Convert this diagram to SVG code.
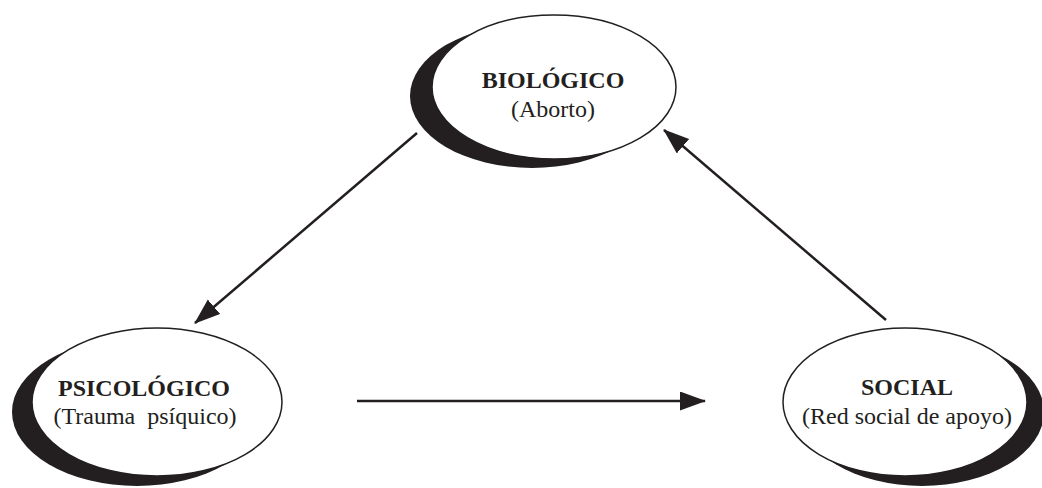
<svg xmlns="http://www.w3.org/2000/svg" width="1042" height="488" viewBox="0 0 1042 488">
  <style>
    .shadow { fill: #231f20; }
    .face { fill: #ffffff; stroke: #231f20; stroke-width: 1.5; }
    .title { font-family: "Liberation Serif", "Times New Roman", serif; font-weight: bold; font-size: 24px; fill: #231f20; text-anchor: middle; }
    .sub { font-family: "Liberation Serif", "Times New Roman", serif; font-size: 24px; fill: #231f20; text-anchor: middle; white-space: pre; }
    .conn { stroke: #231f20; stroke-width: 2.5; fill: none; marker-end: url(#arrow); }
  </style>
  <defs>
    <marker id="arrow" markerUnits="userSpaceOnUse" markerWidth="26" markerHeight="20" refX="25" refY="9.5" orient="auto">
      <path d="M0,0 L26,9.5 L0,19 Z" fill="#231f20"/>
    </marker>
  </defs>
  <rect width="1042" height="488" fill="#ffffff"/>

  <g id="biologico">
    <ellipse class="shadow" cx="532" cy="96" rx="122" ry="72"/>
    <ellipse class="face" cx="554" cy="87" rx="122" ry="72"/>
    <text class="title" x="553" y="88">BIOLÓGICO</text>
    <text class="sub" x="553" y="117">(Aborto)</text>
  </g>

  <g id="psicologico">
    <ellipse class="shadow" cx="137" cy="412" rx="125" ry="74"/>
    <ellipse class="face" cx="157" cy="402" rx="125" ry="74"/>
    <text class="title" x="144" y="396">PSICOLÓGICO</text>
    <text class="sub" x="145" y="424">(Trauma  psíquico)</text>
  </g>

  <g id="social">
    <ellipse class="shadow" cx="922" cy="412" rx="122" ry="74"/>
    <ellipse class="face" cx="905" cy="402" rx="122" ry="74"/>
    <text class="title" x="907" y="395">SOCIAL</text>
    <text class="sub" x="907" y="424">(Red social de apoyo)</text>
  </g>

  <g id="connectors">
    <line class="conn" x1="417" y1="133" x2="195" y2="323"/>
    <line class="conn" x1="357" y1="401" x2="705" y2="401"/>
    <line class="conn" x1="886" y1="320" x2="664" y2="130"/>
  </g>
</svg>
